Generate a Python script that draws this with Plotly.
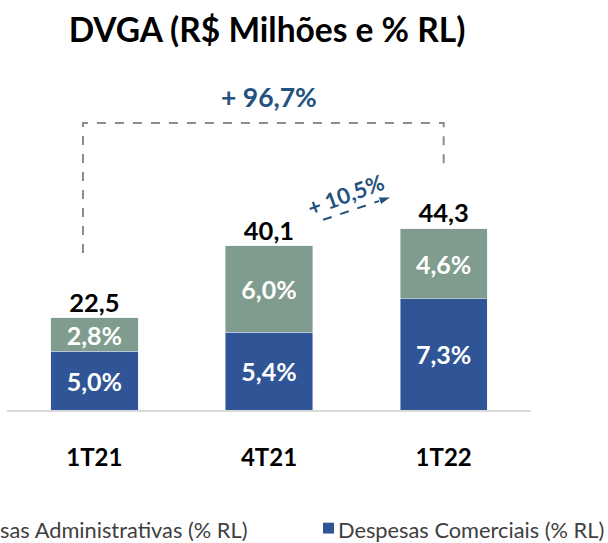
import plotly.graph_objects as go

# ---- data ----
categories = ["1T21", "4T21", "1T22"]
comerciais = [14.4, 19.0, 27.2]          # R$ milhões
administrativas = [8.1, 21.1, 17.1]      # R$ milhões
comerciais_pct = ["5,0%", "5,4%", "7,3%"]
administrativas_pct = ["2,8%", "6,0%", "4,6%"]
totals = [22.5, 40.1, 44.3]
total_labels = ["22,5", "40,1", "44,3"]
growth_total = "+ 96,7%"
growth_quarter = "+ 10,5%"
legend_names = ["Despesas Administrativas (% RL)", "Despesas Comerciais (% RL)"]
title_text = "DVGA (R$ Milhões e % RL)"

BLUE = "#2F5597"
GREY = "#7F9C8E"
ANN = "#24527E"
FONT = "Lato"

xs = list(range(len(categories)))

fig = go.Figure()
fig.add_bar(x=xs, y=comerciais, name=legend_names[1], marker_color=BLUE,
            text=comerciais_pct, textposition="inside", insidetextanchor="middle",
            constraintext="none", textangle=0,
            textfont=dict(family=FONT, size=25, color="white", weight="bold"))
fig.add_bar(x=xs, y=administrativas, name=legend_names[0], marker_color=GREY,
            text=administrativas_pct, textposition="inside", insidetextanchor="middle",
            constraintext="none", textangle=0,
            textfont=dict(family=FONT, size=25, color="white", weight="bold"))

# totals above bars
fig.add_scatter(x=xs, y=totals, mode="text", text=total_labels,
                textposition="top center",
                textfont=dict(family=FONT, size=25.5, color="black", weight="bold"),
                showlegend=False, hoverinfo="skip")

# bracket between 1T21 and 1T22
bx0, bx1 = xs[0] - 0.065, xs[2]
top_y = 70.2
fig.add_scatter(x=[bx0, bx0, bx1, bx1], y=[38.4, top_y, top_y, 58.2], mode="lines",
                line=dict(color="#8C8C8C", width=2, dash="dash"),
                showlegend=False, hoverinfo="skip")

# dashed arrow 4T21 -> 1T22
fig.add_scatter(x=[1.31, 1.70], y=[46.5, 52.1], mode="lines+markers",
                line=dict(color=ANN, width=2, dash="dash"),
                marker=dict(symbol="arrow", size=[0, 13], angleref="previous",
                            color=ANN, opacity=[0, 1]),
                showlegend=False, hoverinfo="skip")

fig.add_annotation(x=1, y=76.5, xref="x", yref="y", text=growth_total, showarrow=False,
                   font=dict(family=FONT, size=26.5, color=ANN, weight="bold"))
fig.add_annotation(x=1.44, y=52.6, xref="x", yref="y", text=growth_quarter, showarrow=False,
                   textangle=-20,
                   font=dict(family=FONT, size=22, color=ANN, weight="bold"))

# legend (cropped at left as in reference)
fig.add_annotation(x=(249 - 7) / 524, y=-0.34, xref="paper", yref="paper",
                   xanchor="right", yanchor="middle", showarrow=False,
                   text=legend_names[0],
                   font=dict(family=FONT, size=21.8, color="#404040"))
fig.add_shape(type="rect", xref="paper", yref="paper",
              x0=(323 - 7) / 524, x1=(334 - 7) / 524, y0=-0.353, y1=-0.322,
              fillcolor=BLUE, line_width=0)
fig.add_annotation(x=(336 - 7) / 524, y=-0.34, xref="paper", yref="paper",
                   xanchor="left", yanchor="middle", showarrow=False,
                   text=legend_names[1],
                   font=dict(family=FONT, size=21.8, color="#404040"))

fig.update_layout(
    width=608, height=543,
    margin=dict(l=7, r=77, t=60, b=133),
    barmode="stack", bargap=0.5,
    showlegend=False,
    plot_bgcolor="white", paper_bgcolor="white",
    title=dict(text=title_text, x=267 / 608, xanchor="center", y=1 - 30 / 543,
               yanchor="middle", yref="container",
               font=dict(family=FONT, size=33.5, color="black", weight="bold")),
    xaxis=dict(range=[-0.5, 2.5], tickvals=xs, ticktext=categories,
               showline=True, linecolor="#D9D9D9", linewidth=2,
               showgrid=False, zeroline=False, ticks="",
               ticklabelstandoff=25,
               tickfont=dict(family=FONT, size=24, color="black", weight="bold")),
    yaxis=dict(range=[0, 350 / 4.09], visible=False),
)

fig.write_html("out.html", config={"displayModeBar": False},
               post_script="document.body.style.margin='0';document.body.style.overflow='hidden';")
